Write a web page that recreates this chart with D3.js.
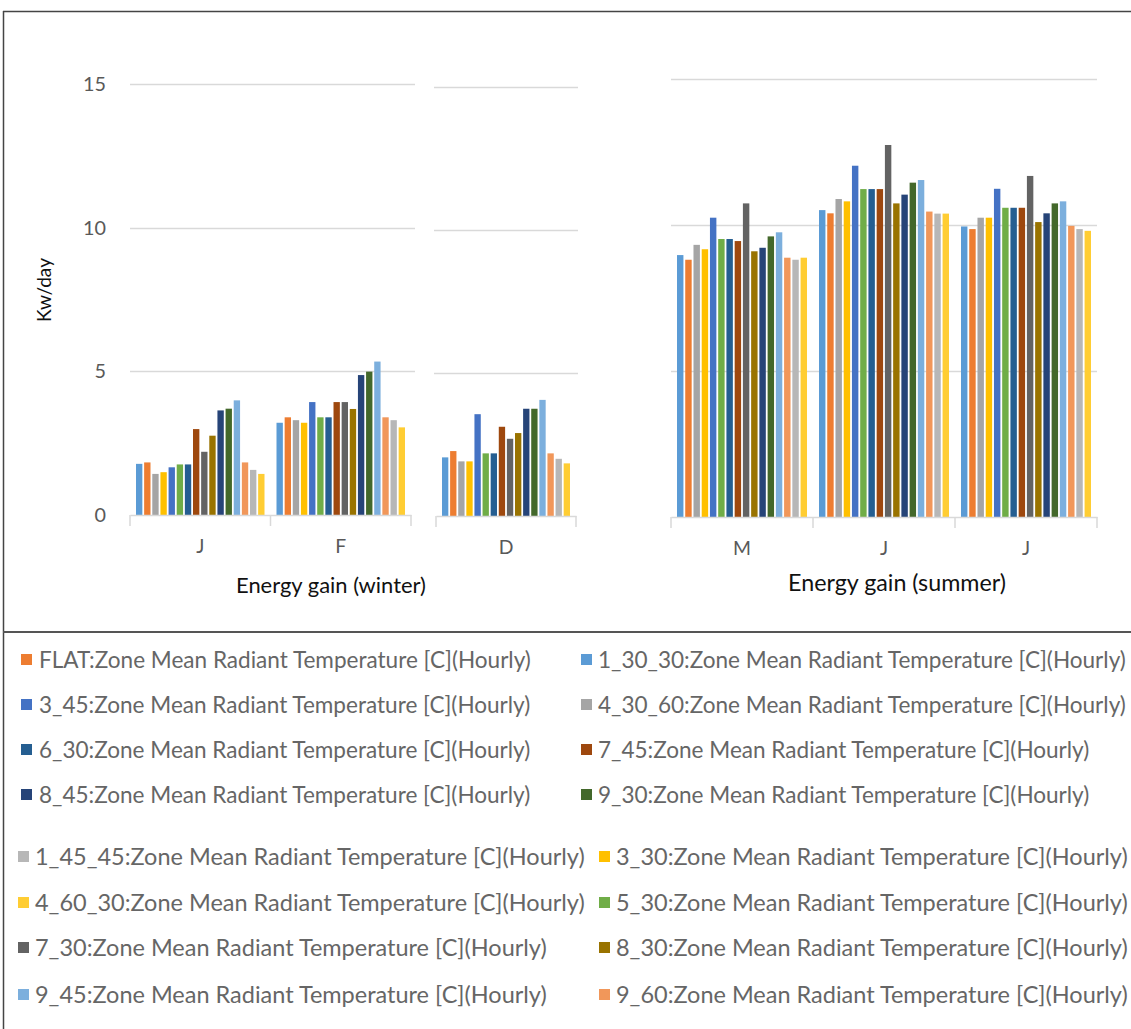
<!DOCTYPE html>
<html>
<head>
<meta charset="utf-8">
<script src="https://cdn.jsdelivr.net/npm/d3@7"></script>
<style>
  html, body { margin: 0; padding: 0; background: #fff; }
  svg { display: block; font-family: Lato, "Open Sans", sans-serif; }
</style>
</head>
<body>
<svg id="chart" width="1131" height="1029"></svg>
<script>
// series in bar order (Excel default palette)
const seriesNames = ["1_30_30", "FLAT", "4_30_60", "3_30", "3_45", "5_30", "6_30", "7_45",
  "7_30", "8_30", "8_45", "9_30", "9_45", "9_60", "1_45_45", "4_60_30"];
const seriesColors = ["#5B9BD5", "#ED7D31", "#A5A5A5", "#FFC000", "#4472C4", "#70AD47", "#255E91", "#9E480E",
  "#636363", "#997300", "#264478", "#43682B", "#7CAFDD", "#F1975A", "#B7B7B7", "#FFCD33"];

const winterCats = ["J", "F"];
const decCats = ["D"];
const summerCats = ["M", "J", "J"];

// Kw/day per series, same order as seriesNames
const janVals = [1.78, 1.83, 1.43, 1.49, 1.66, 1.76, 1.76, 2.99, 2.20, 2.76, 3.64, 3.70, 3.99, 1.83, 1.57, 1.43];
const febVals = [3.21, 3.40, 3.30, 3.21, 3.93, 3.40, 3.40, 3.93, 3.93, 3.69, 4.87, 4.99, 5.34, 3.40, 3.30, 3.05];
const decVals = [2.05, 2.27, 1.91, 1.91, 3.56, 2.19, 2.19, 3.12, 2.70, 2.90, 3.75, 3.75, 4.06, 2.19, 2.00, 1.84];
const mayVals = [8.97, 8.81, 9.32, 9.17, 10.25, 9.52, 9.52, 9.45, 10.74, 9.10, 9.22, 9.61, 9.75, 8.88, 8.81, 8.88];
const junVals = [10.51, 10.40, 10.89, 10.81, 12.03, 11.23, 11.23, 11.23, 12.74, 10.74, 11.04, 11.45, 11.54, 10.46, 10.39, 10.39];
const julVals = [9.95, 9.86, 10.25, 10.25, 11.24, 10.59, 10.59, 10.59, 11.68, 10.10, 10.40, 10.74, 10.81, 9.97, 9.86, 9.80];

const yTicks = [0, 5, 10, 15];
const legendSuffix = ":Zone Mean Radiant Temperature [C](Hourly)";
const legendBlock1 = [["FLAT", "1_30_30"], ["3_45", "4_30_60"], ["6_30", "7_45"], ["8_45", "9_30"]];
const legendBlock2 = [["1_45_45", "3_30"], ["4_60_30", "5_30"], ["7_30", "8_30"], ["9_45", "9_60"]];

const svg = d3.select("#chart");
const color = d3.scaleOrdinal().domain(seriesNames).range(seriesColors);
const textGrey = "#595959";

// scale a font so that a sample string gets a target width
function fitSize(sample, target) {
  const t = svg.append("text").style("font-size", "20px").text(sample);
  const w = t.node().getComputedTextLength();
  t.remove();
  return 20 * target / w;
}

// frame
svg.append("line").attr("x1", 3).attr("x2", 1131).attr("y1", 11.5).attr("y2", 11.5)
  .attr("stroke", "#444").attr("stroke-width", 1.5);
svg.append("line").attr("x1", 3.5).attr("x2", 3.5).attr("y1", 11).attr("y2", 1029)
  .attr("stroke", "#444").attr("stroke-width", 1.5);
svg.append("line").attr("x1", 3).attr("x2", 1131).attr("y1", 632).attr("y2", 632)
  .attr("stroke", "#555").attr("stroke-width", 2);

const panels = [
  {cats: winterCats, vals: [janVals, febVals], x0: 130, x1: 411, y0: 515, y15: 84, grid: [130, 415]},
  {cats: decCats, vals: [decVals], x0: 436, x1: 576, y0: 516, y15: 87, grid: [434, 578]},
  {cats: summerCats, vals: [mayVals, junVals, julVals], x0: 671, x1: 1097, y0: 517, y15: 79, grid: [671, 1097]}
];

const catSize = fitSize("M", 18);
const tickSize = fitSize("10", 23);

panels.forEach(function(p, pi) {
  const g = svg.append("g");
  const y = d3.scaleLinear().domain([0, 15]).range([p.y0, p.y15]);
  const x = d3.scaleBand().domain(p.cats.map((c, i) => i)).range([p.x0, p.x1]).padding(0);
  const xs = d3.scaleBand().domain(seriesNames).range([6, x.bandwidth() - 6]).paddingInner(0.22);

  // gridlines
  g.selectAll(".grid").data(yTicks.filter(t => t > 0)).join("line")
    .attr("x1", p.grid[0]).attr("x2", p.grid[1])
    .attr("y1", d => Math.round(y(d)) + 0.5).attr("y2", d => Math.round(y(d)) + 0.5)
    .attr("stroke", "#d9d9d9").attr("stroke-width", 1.5);

  // bars
  p.vals.forEach(function(vals, ci) {
    g.append("g").attr("transform", `translate(${x(ci)},0)`)
      .selectAll("rect").data(vals).join("rect")
      .attr("x", (d, i) => xs(seriesNames[i]))
      .attr("width", xs.bandwidth())
      .attr("y", d => y(d))
      .attr("height", d => y(0) - y(d))
      .attr("fill", (d, i) => color(seriesNames[i]));
  });

  // x axis: domain + category labels
  const ax = g.append("g").attr("transform", `translate(0,${p.y0})`)
    .call(d3.axisBottom(x).tickSize(0).tickPadding(24).tickFormat(i => p.cats[i]));
  ax.select(".domain").attr("stroke", "#d9d9d9").attr("stroke-width", 1.5);
  ax.selectAll("text").attr("fill", textGrey).style("font-size", catSize + "px").style("font-family", "Lato");
  // boundary ticks between categories
  const bounds = p.cats.map((c, i) => x(i)).concat([p.x1]);
  g.selectAll(".btick").data(bounds).join("line")
    .attr("x1", d => d).attr("x2", d => d)
    .attr("y1", p.y0).attr("y2", p.y0 + 11)
    .attr("stroke", "#d9d9d9").attr("stroke-width", 1.5);

  if (pi === 0) {
    const ay = g.append("g").attr("transform", "translate(106,0)")
      .call(d3.axisLeft(y).tickValues(yTicks).tickSize(0).tickPadding(0));
    ay.select(".domain").remove();
    ay.selectAll("text").attr("fill", textGrey).style("font-size", tickSize + "px").style("font-family", "Lato");
  }
});

// titles
svg.append("text").attr("x", 331).attr("y", 593).attr("text-anchor", "middle")
  .style("font-size", fitSize("Energy gain (winter)", 190) + "px").attr("fill", "#111").text("Energy gain (winter)");
svg.append("text").attr("x", 897).attr("y", 591).attr("text-anchor", "middle")
  .style("font-size", fitSize("Energy gain (summer)", 218) + "px").attr("fill", "#111").text("Energy gain (summer)");
svg.append("text").attr("transform", "translate(51,290) rotate(-90)").attr("text-anchor", "middle")
  .style("font-size", fitSize("Kw/day", 64) + "px").attr("fill", "#111").text("Kw/day");

// legend
function drawLegend(block, rowsY, cols, fontSize) {
  block.forEach(function(row, ri) {
    row.forEach(function(name, ci) {
      const c = cols[ci];
      const yy = rowsY[ri];
      svg.append("rect").attr("x", c.sx).attr("y", yy - 6).attr("width", 11).attr("height", 11)
        .attr("fill", color(name));
      svg.append("text").attr("x", c.tx).attr("y", yy).attr("dy", "0.35em")
        .style("font-size", fontSize + "px").attr("fill", "#666")
        .text(name + legendSuffix);
    });
  });
}
drawLegend(legendBlock1, [660, 705, 750, 795], [{sx: 21, tx: 39}, {sx: 581, tx: 598}],
  fitSize("FLAT" + legendSuffix, 492));
drawLegend(legendBlock2, [857, 903, 948, 995], [{sx: 18, tx: 35}, {sx: 599, tx: 616}],
  fitSize("1_45_45" + legendSuffix, 550));
</script>
</body>
</html>
